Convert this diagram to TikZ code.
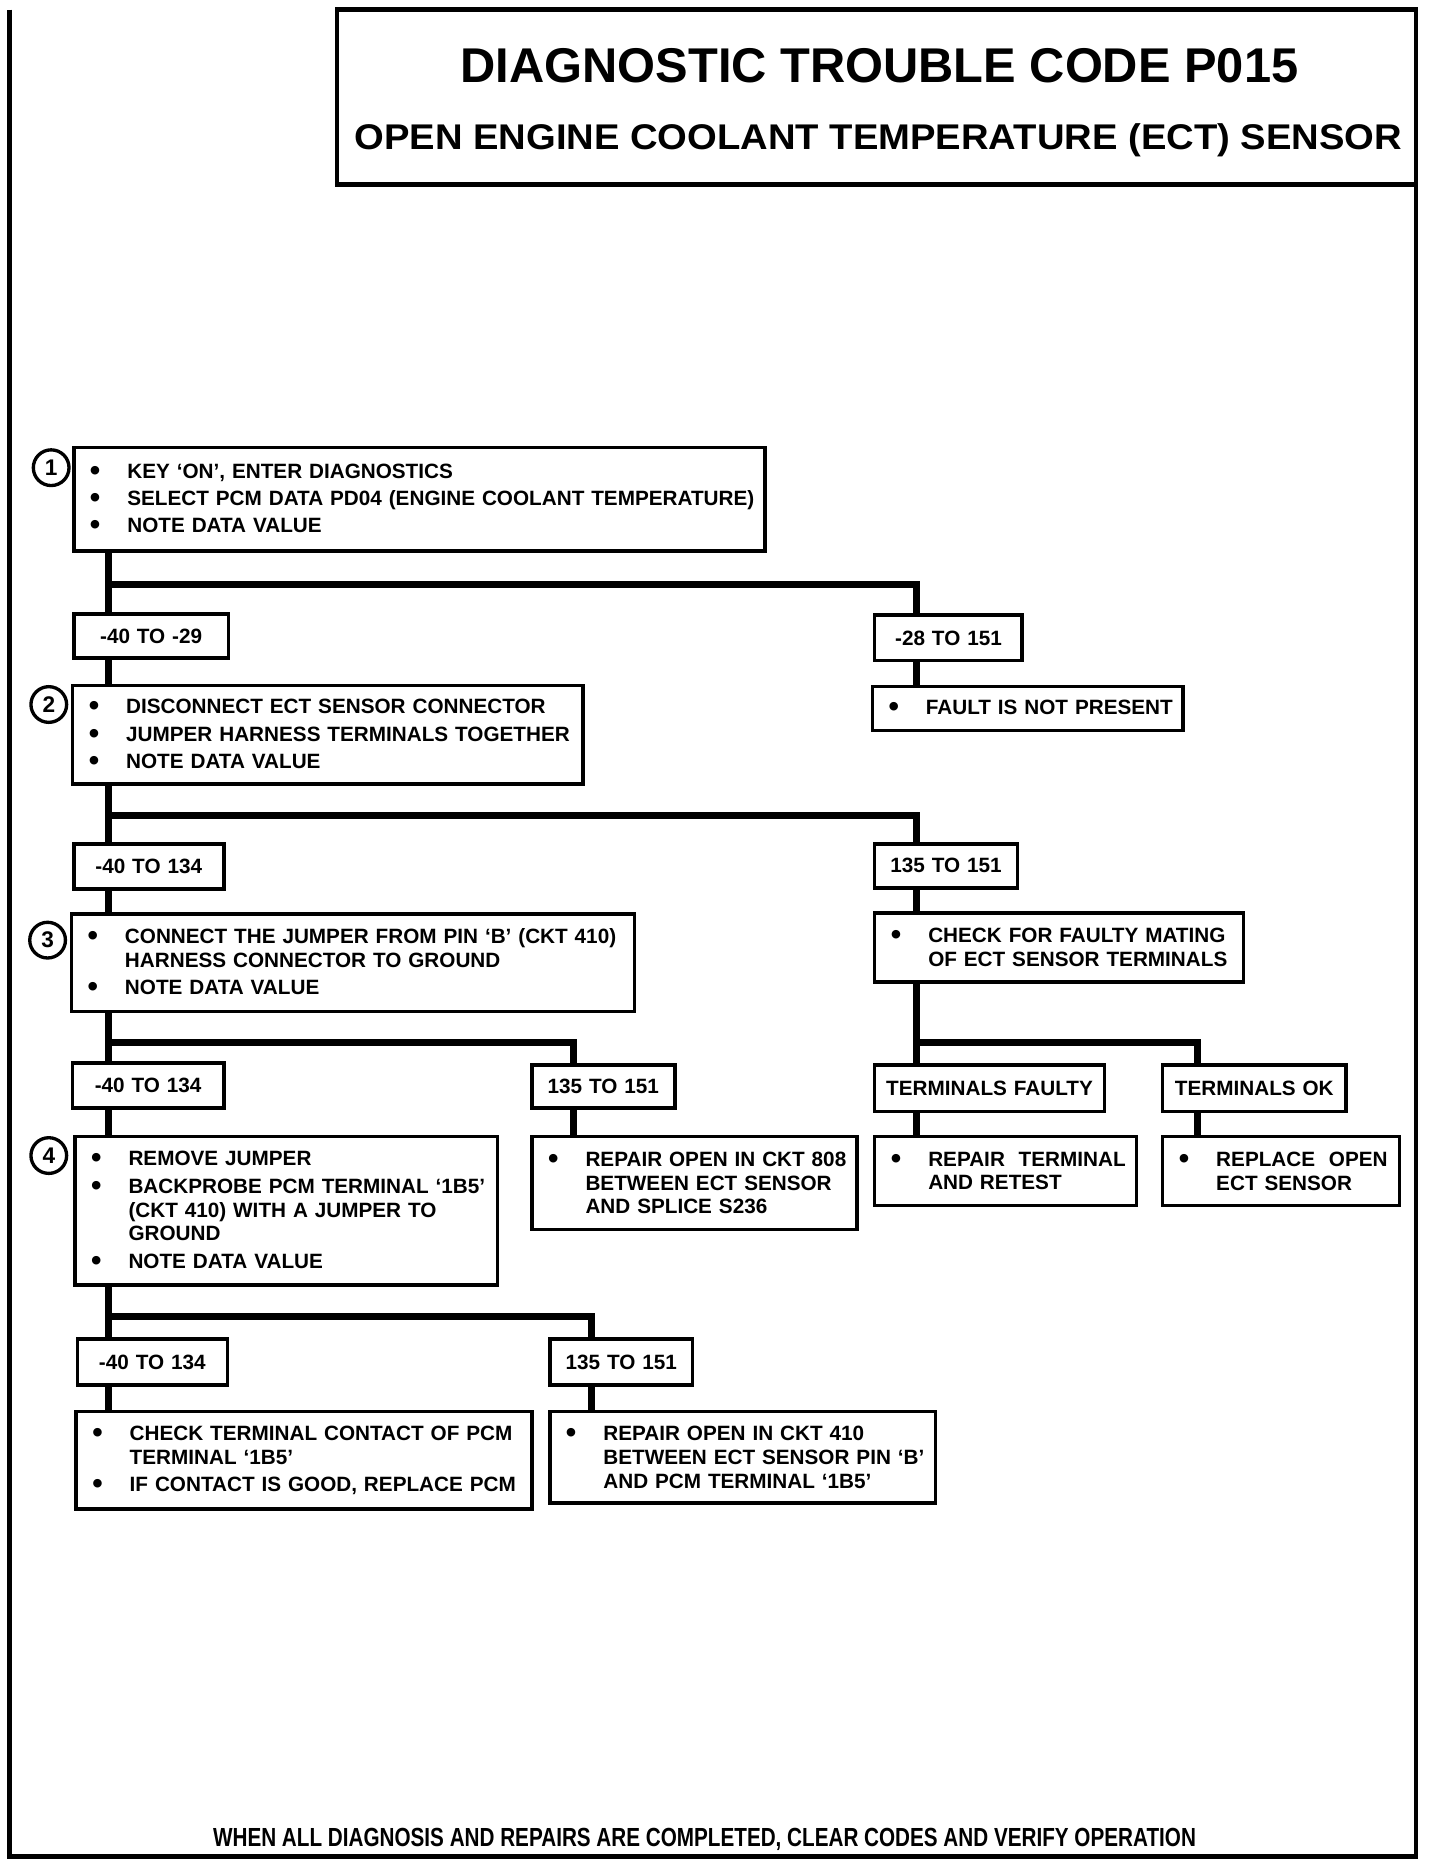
\documentclass[tikz,border=0pt]{standalone}
\usepackage{fontspec}
\setmainfont{Liberation Sans}
\newfontfamily\subtfont[FakeStretch=1.07]{Liberation Sans}
\newfontfamily\footfont[FakeStretch=0.79]{Liberation Sans}
\usetikzlibrary{calc}
\newcommand\bodyf{\fontsize{8.7}{10}\selectfont\bfseries}
\newcommand\bigbul{\raisebox{-0.8pt}{\fontsize{12.5}{10}\selectfont\textbullet}}
\newcommand\bitem[1]{\hspace*{6.8pt}\makebox[15.7pt][l]{\bigbul}#1}
\newcommand\citem[1]{\hspace*{22.5pt}#1}
\newcommand\mkbox[7][]{%
  \pgfmathsetmacro\bxc{(#3+#5)/2}%
  \pgfmathsetmacro\byc{(#4+#6)/2}%
  \pgfmathsetmacro\bxw{(#5-#3)*0.5}%
  \pgfmathsetmacro\bxh{(#6-#4)*0.5}%
  \node[boxs,minimum width=\bxw pt,minimum height=\bxh pt,text width=\bxw pt,#1] (#2) at (\bxc,\byc) {#7};}
\tikzset{
  conn/.style={line width=3pt, line join=miter},
  boxs/.style={draw, line width=1.5pt, inner xsep=0pt, inner ysep=0pt, outer sep=0pt, fill=white, font=\bodyf, align=left},
  circ/.style={draw, circle, line width=1.4pt, minimum size=15pt, inner sep=0pt, font=\fontsize{9.5}{10}\selectfont\bfseries},
  framel/.style={line width=1.7pt, line join=miter}
}
\begin{document}
\begin{tikzpicture}[x=0.5pt, y=-0.5pt]
\useasboundingbox (0,0) rectangle (1210,1568);
% title
\node[draw, line width=1.8pt, minimum width=453.5pt, minimum height=73.5pt, inner sep=0pt, outer sep=0pt] (title) at (736.5,81.5) {};
\node[anchor=base, inner sep=0pt, font=\fontsize{20.5}{24}\selectfont\bfseries] (t1) at (739,69) {DIAGNOSTIC TROUBLE CODE P015};
\node[anchor=base, inner sep=0pt, font=\subtfont\fontsize{15}{18}\selectfont\bfseries] (t2) at (738,126) {OPEN ENGINE COOLANT TEMPERATURE (ECT) SENSOR};
% frame
\coordinate (FTL) at (8,8);
\coordinate (FBL) at (8,1560);
\coordinate (FBR) at (1190,1560);
\draw[framel] (FTL) -- (FBL) -- (FBR) -- (title.south east);
% boxes
\mkbox{b1}{62}{376}{643}{463}{\bitem{KEY ‘ON’, ENTER DIAGNOSTICS}\\[1.5pt]\bitem{SELECT PCM DATA PD04 (ENGINE COOLANT TEMPERATURE)}\\[1.5pt]\bitem{NOTE DATA VALUE}}
\mkbox[align=center]{l1a}{62}{516}{192}{553}{-40 TO -29}
\mkbox[align=center]{l1b}{735}{517}{859}{555}{-28 TO 151}
\mkbox{fault}{733}{577}{994}{614}{\bitem{FAULT IS NOT PRESENT}}
\mkbox{b2}{61}{576}{490}{659}{\bitem{DISCONNECT ECT SENSOR CONNECTOR}\\[1.5pt]\bitem{JUMPER HARNESS TERMINALS TOGETHER}\\[1.5pt]\bitem{NOTE DATA VALUE}}
\mkbox[align=center]{l2a}{62}{709}{188}{747}{-40 TO 134}
\mkbox[align=center]{l2b}{735}{709}{855}{746}{135 TO 151}
\mkbox{b3}{60}{768}{533}{850}{\bitem{CONNECT THE JUMPER FROM PIN ‘B’ (CKT 410)}\\\citem{HARNESS CONNECTOR TO GROUND}\\[1.5pt]\bitem{NOTE DATA VALUE}}
\mkbox{check}{735}{767}{1045}{825}{\bitem{CHECK FOR FAULTY MATING}\\\citem{OF ECT SENSOR TERMINALS}}
\mkbox[align=center]{l3a}{61}{893}{188}{931}{-40 TO 134}
\mkbox[align=center]{l3b}{447}{895}{567}{931}{135 TO 151}
\mkbox[align=center]{tf}{735}{895}{928}{934}{TERMINALS FAULTY}
\mkbox[align=center]{tok}{977}{895}{1131}{934}{TERMINALS OK}
\mkbox{b4}{63}{955}{418}{1080}{\bitem{REMOVE JUMPER}\\[1.5pt]\bitem{BACKPROBE PCM TERMINAL ‘1B5’}\\\citem{(CKT 410) WITH A JUMPER TO}\\\citem{GROUND}\\[1.5pt]\bitem{NOTE DATA VALUE}}
\mkbox{r808}{447}{955}{720}{1033}{\bitem{REPAIR OPEN IN CKT 808}\\\citem{BETWEEN ECT SENSOR}\\\citem{AND SPLICE S236}}
\mkbox{rterm}{735}{955}{955}{1013}{\bitem{REPAIR\ \ TERMINAL}\\\citem{AND RETEST}}
\mkbox{rsens}{977}{955}{1176}{1013}{\bitem{REPLACE\ \ OPEN}\\\citem{ECT SENSOR}}
\mkbox[align=center]{l4a}{65}{1125}{191}{1164}{-40 TO 134}
\mkbox[align=center]{l4b}{462}{1125}{582}{1164}{135 TO 151}
\mkbox{chkpcm}{64}{1186}{447}{1268}{\bitem{CHECK TERMINAL CONTACT OF PCM}\\\citem{TERMINAL ‘1B5’}\\[1.5pt]\bitem{IF CONTACT IS GOOD, REPLACE PCM}}
\mkbox{r410}{462}{1186}{786}{1263}{\bitem{REPAIR OPEN IN CKT 410}\\\citem{BETWEEN ECT SENSOR PIN ‘B’}\\\citem{AND PCM TERMINAL ‘1B5’}}
% step numbers
\node[circ] (c1) at (43,393) {1};
\node[circ] (c2) at (41,592) {2};
\node[circ] (c3) at (40,790) {3};
\node[circ] (c4) at (41,971) {4};
% footer
\node[anchor=base, inner sep=0pt, font=\footfont\fontsize{11}{13}\selectfont\bfseries] (foot) at (592,1552) {WHEN ALL DIAGNOSIS AND REPAIRS ARE COMPLETED, CLEAR CODES AND VERIFY OPERATION};
% connector guides
\coordinate (XT) at (91,0);
\coordinate (XR) at (770,0);
\coordinate (XO) at (1006,0);
\coordinate (X3) at (482,0);
\coordinate (X4) at (497,0);
\coordinate (H1) at (0,491);
\coordinate (H2) at (0,685);
\coordinate (H3) at (0,876);
\coordinate (H4) at (0,1106);
% connectors
\draw[conn] (b1.south -| XT) -- (l1a.north -| XT);
\draw[conn] (H1 -| XT) -- (H1 -| XR) -- (l1b.north -| XR);
\draw[conn] (l1a.south -| XT) -- (b2.north -| XT);
\draw[conn] (l1b.south -| XR) -- (fault.north -| XR);
\draw[conn] (b2.south -| XT) -- (l2a.north -| XT);
\draw[conn] (H2 -| XT) -- (H2 -| XR) -- (l2b.north -| XR);
\draw[conn] (l2a.south -| XT) -- (b3.north -| XT);
\draw[conn] (l2b.south -| XR) -- (check.north -| XR);
\draw[conn] (b3.south -| XT) -- (l3a.north -| XT);
\draw[conn] (H3 -| XT) -- (H3 -| X3) -- (l3b.north -| X3);
\draw[conn] (check.south -| XR) -- (tf.north -| XR);
\draw[conn] (H3 -| XR) -- (H3 -| XO) -- (tok.north -| XO);
\draw[conn] (l3a.south -| XT) -- (b4.north -| XT);
\draw[conn] (l3b.south -| X3) -- (r808.north -| X3);
\draw[conn] (tf.south -| XR) -- (rterm.north -| XR);
\draw[conn] (tok.south -| XO) -- (rsens.north -| XO);
\draw[conn] (b4.south -| XT) -- (l4a.north -| XT);
\draw[conn] (H4 -| XT) -- (H4 -| X4) -- (l4b.north -| X4);
\draw[conn] (l4a.south -| XT) -- (chkpcm.north -| XT);
\draw[conn] (l4b.south -| X4) -- (r410.north -| X4);
\end{tikzpicture}
\end{document}
